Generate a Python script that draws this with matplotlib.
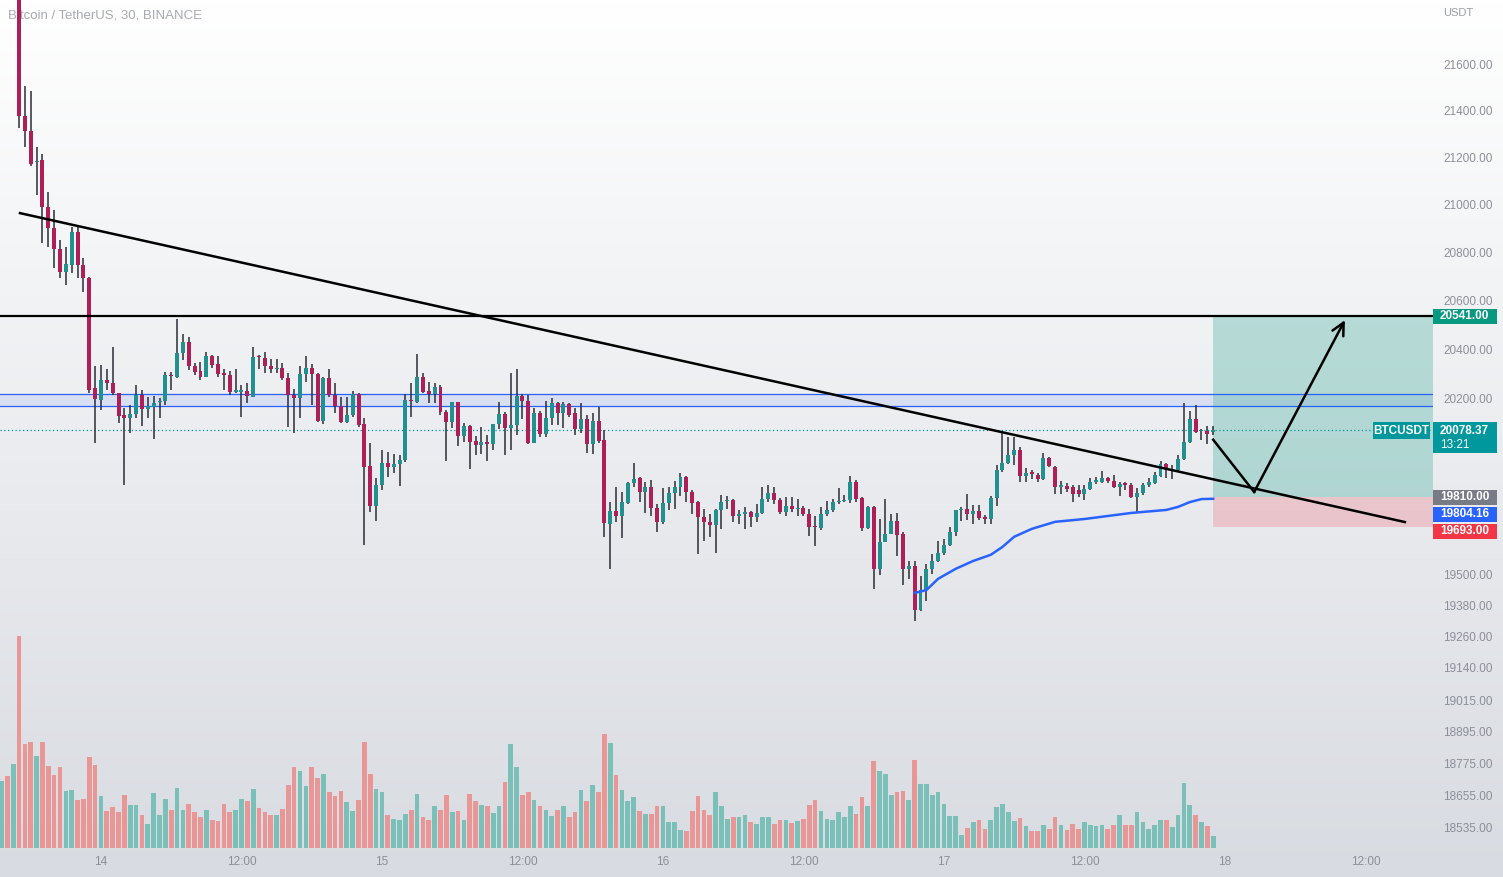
import numpy as np
import matplotlib.pyplot as plt
from matplotlib.patches import Rectangle

# 30 minute bars, index 0 = 14th 00:00 (bars -17 .. 190)
first_bar = -17

opens = [22300, 22380, 22250, 22300, 21383, 21320, 21186, 21195, 20996, 20908,
         20821, 20725, 20754, 20892, 20754, 20700, 20248, 20200, 20282, 20268,
         20228, 20140, 20128, 20144, 20220, 20164, 20172, 20192, 20196, 20300,
         20292, 20392, 20436, 20340, 20316, 20292, 20380, 20348, 20308, 20300,
         20234, 20234, 20236, 20212, 20380, 20372, 20340, 20324, 20332, 20288,
         20220, 20208, 20304, 20332, 20304, 20116, 20288, 20220, 20176, 20112,
         20140, 20224, 20104, 19936, 19776, 19860, 19948, 19932, 19944, 19960,
         20202, 20192, 20292, 20236, 20224, 20252, 20152, 20112, 20192, 20056,
         20096, 20036, 20020, 20032, 20024, 20104, 20144, 20088, 20100, 20216,
         20196, 20028, 20148, 20064, 20128, 20188, 20148, 20184, 20148, 20084,
         20124, 20024, 20116, 20040, 19705, 19756, 19736, 19787, 19868, 19888,
         19830, 19851, 19768, 19713, 19787, 19826, 19852, 19892, 19830, 19791,
         19732, 19713, 19701, 19760, 19795, 19799, 19736, 19744, 19752, 19732,
         19748, 19803, 19826, 19799, 19752, 19776, 19764, 19768, 19744, 19697,
         19689, 19744, 19760, 19791, 19795, 19799, 19872, 19807, 19689, 19772,
         19528, 19634, 19665, 19717, 19665, 19528, 19540, 19367, 19445, 19528,
         19559, 19591, 19622, 19673, 19760, 19764, 19744, 19756, 19732, 19724,
         19807, 19920, 19948, 19980, 20000, 19896, 19908, 19900, 19884, 19968,
         19932, 19852, 19856, 19852, 19840, 19824, 19844, 19872, 19872, 19888,
         19876, 19852, 19864, 19860, 19812, 19828, 19860, 19868, 19896, 19944,
         19916, 19920, 19964, 20032, 20124, 20076, 20076, 20072]

highs = [22420, 22450, 22360, 22340, 21510, 21491, 21251, 21220, 21060, 20984,
         20858, 20830, 20913, 20913, 20783, 20705, 20338, 20342, 20326, 20415,
         20230, 20168, 20180, 20260, 20240, 20212, 20216, 20208, 20312, 20312,
         20532, 20468, 20456, 20352, 20356, 20396, 20385, 20380, 20324, 20316,
         20324, 20260, 20268, 20416, 20384, 20396, 20368, 20368, 20352, 20308,
         20244, 20340, 20380, 20348, 20308, 20292, 20324, 20268, 20212, 20212,
         20236, 20228, 20128, 20028, 19888, 20000, 19992, 19984, 19980, 20224,
         20268, 20388, 20308, 20272, 20268, 20260, 20160, 20192, 20192, 20108,
         20100, 20056, 20092, 20060, 20104, 20192, 20152, 20308, 20324, 20224,
         20220, 20168, 20156, 20196, 20208, 20192, 20192, 20188, 20168, 20188,
         20140, 20148, 20172, 20080, 19791, 19851, 19830, 19872, 19948, 19892,
         19872, 19880, 19783, 19848, 19851, 19876, 19908, 19896, 19840, 19795,
         19764, 19744, 19764, 19818, 19815, 19803, 19760, 19772, 19756, 19783,
         19851, 19860, 19851, 19807, 19811, 19811, 19803, 19776, 19764, 19736,
         19772, 19795, 19803, 19848, 19818, 19896, 19880, 19811, 19776, 19776,
         19724, 19803, 19744, 19748, 19673, 19559, 19559, 19500, 19547, 19587,
         19638, 19646, 19693, 19760, 19772, 19823, 19780, 19780, 19740, 19815,
         19940, 20068, 20052, 20052, 20012, 19928, 19920, 19908, 19988, 19972,
         19936, 19876, 19868, 19860, 19860, 19860, 19888, 19892, 19916, 19892,
         19900, 19872, 19872, 19868, 19848, 19868, 19888, 19912, 19956, 19948,
         19940, 19980, 20188, 20156, 20180, 20084, 20096, 20096]

lows = [22240, 22200, 22150, 21332, 21251, 21168, 21047, 20846, 20830, 20741,
        20700, 20671, 20721, 20700, 20642, 20228, 20028, 20160, 20240, 20220,
        20108, 19860, 20068, 20128, 20096, 20128, 20044, 20128, 20180, 20240,
        20288, 20364, 20320, 20300, 20280, 20292, 20332, 20292, 20240, 20220,
        20228, 20132, 20188, 20212, 20328, 20308, 20308, 20308, 20280, 20092,
        20068, 20128, 20272, 20180, 20112, 20104, 20212, 20148, 20108, 20108,
        20132, 20092, 19622, 19752, 19717, 19840, 19892, 19908, 19856, 19952,
        20132, 20188, 20228, 20188, 20188, 20140, 19956, 20088, 20016, 20032,
        19924, 19980, 19984, 19956, 20000, 20084, 19980, 20000, 20060, 20124,
        20024, 20028, 20052, 20052, 20100, 20100, 20088, 20132, 20060, 20068,
        19988, 19984, 20028, 19654, 19528, 19713, 19650, 19783, 19852, 19791,
        19748, 19736, 19673, 19705, 19760, 19764, 19816, 19791, 19744, 19587,
        19638, 19654, 19591, 19685, 19764, 19713, 19705, 19685, 19693, 19713,
        19744, 19791, 19783, 19744, 19736, 19752, 19736, 19736, 19658, 19618,
        19681, 19736, 19752, 19783, 19791, 19787, 19791, 19677, 19685, 19449,
        19504, 19634, 19665, 19579, 19465, 19488, 19324, 19363, 19402, 19508,
        19555, 19583, 19618, 19658, 19717, 19720, 19705, 19720, 19705, 19705,
        19776, 19912, 19944, 19940, 19872, 19872, 19884, 19872, 19880, 19932,
        19824, 19824, 19832, 19791, 19812, 19800, 19840, 19864, 19868, 19868,
        19848, 19816, 19840, 19808, 19748, 19820, 19852, 19864, 19892, 19888,
        19884, 19912, 19960, 20028, 20068, 20040, 20024, 20060]

closes = [22380, 22250, 22300, 21383, 21319, 21178, 21192, 20996, 20908, 20821,
          20725, 20758, 20892, 20754, 20700, 20240, 20204, 20280, 20270, 20228,
          20136, 20128, 20144, 20220, 20164, 20176, 20188, 20196, 20300, 20296,
          20392, 20436, 20340, 20312, 20292, 20380, 20344, 20304, 20300, 20232,
          20238, 20238, 20216, 20376, 20376, 20340, 20328, 20332, 20288, 20220,
          20208, 20304, 20332, 20304, 20116, 20288, 20220, 20176, 20112, 20140,
          20224, 20100, 19932, 19776, 19860, 19948, 19932, 19944, 19960, 20200,
          20196, 20292, 20232, 20224, 20252, 20152, 20112, 20192, 20056, 20096,
          20032, 20020, 20032, 20024, 20104, 20144, 20088, 20100, 20216, 20196,
          20028, 20148, 20064, 20128, 20188, 20148, 20184, 20140, 20084, 20124,
          20024, 20116, 20036, 19709, 19756, 19736, 19791, 19868, 19884, 19830,
          19851, 19768, 19713, 19787, 19826, 19852, 19892, 19830, 19787, 19732,
          19713, 19701, 19760, 19791, 19799, 19736, 19744, 19752, 19732, 19748,
          19803, 19826, 19799, 19752, 19776, 19764, 19768, 19744, 19693, 19693,
          19744, 19760, 19791, 19795, 19799, 19872, 19803, 19689, 19772, 19528,
          19634, 19665, 19717, 19661, 19528, 19540, 19367, 19445, 19528, 19559,
          19591, 19622, 19673, 19760, 19764, 19744, 19756, 19728, 19724, 19807,
          19920, 19948, 19980, 20000, 19896, 19908, 19904, 19884, 19968, 19934,
          19852, 19856, 19844, 19824, 19824, 19844, 19872, 19876, 19888, 19876,
          19852, 19864, 19860, 19812, 19828, 19860, 19872, 19900, 19944, 19924,
          19924, 19964, 20032, 20124, 20072, 20080, 20064, 20078.37]

volumes = [200, 215, 253, 635, 313, 317, 275, 317, 245, 220,
           242, 172, 175, 145, 148, 272, 248, 157, 110, 122,
           107, 158, 130, 128, 100, 73, 165, 100, 147, 115,
           180, 115, 133, 107, 92, 115, 83, 80, 133, 107,
           115, 147, 142, 177, 120, 107, 100, 100, 118, 188,
           244, 232, 187, 244, 210, 223, 168, 155, 172, 137,
           112, 143, 317, 223, 178, 168, 100, 88, 85, 103,
           115, 163, 92, 83, 125, 115, 158, 107, 112, 85,
           162, 140, 130, 125, 105, 127, 197, 313, 242, 158,
           167, 145, 125, 115, 95, 115, 125, 92, 107, 175,
           140, 190, 167, 343, 315, 220, 175, 140, 152, 112,
           103, 103, 125, 125, 77, 77, 55, 50, 110, 155,
           113, 100, 167, 125, 88, 93, 92, 100, 77, 73,
           93, 93, 73, 83, 85, 75, 82, 88, 128, 143,
           112, 88, 85, 107, 92, 125, 103, 152, 125, 260,
           230, 223, 160, 168, 172, 145, 265, 192, 192, 158,
           167, 133, 95, 95, 40, 60, 77, 85, 58, 83,
           122, 133, 107, 82, 90, 65, 52, 52, 68, 58,
           93, 68, 55, 73, 58, 77, 68, 65, 70, 58,
           70, 98, 70, 70, 107, 77, 58, 68, 85, 85,
           62, 100, 195, 128, 100, 77, 65, 35]

# EMA line read at a few bars
ema_bars = [139, 141, 143, 146, 149, 152, 154, 156, 159, 163, 168, 176, 182, 184, 186, 188, 190]
ema_vals = [19434, 19445, 19489, 19528, 19559, 19583, 19614, 19654, 19685, 19713, 19724,
            19748, 19760, 19772, 19791, 19803, 19804.16]

# drawings
trend_bars = [-13.84, 222.75]
trend_vals = [20971, 19712]
resistance = 20541.0
zone_hi, zone_lo = 20224, 20176
entry, stop = 19810.0, 19693.0
path_bars = [190, 197, 212.5]
path_vals = [20040, 19831, 20526]
last_price = 20078.37
ema_last = 19804.16

time_pos = [0, 24, 48, 72, 96, 120, 144, 168, 192, 216]
time_labels = ['14', '12:00', '15', '12:00', '16', '12:00', '17', '12:00', '18', '12:00']
# 21800, 20000 and 19800 are hidden behind other labels in the original
price_ticks = [21600, 21400, 21200, 21000, 20800, 20600, 20400, 20200,
               19500, 19380, 19260, 19140, 19015, 18895, 18775, 18655, 18535]

UP, DOWN = '#22908e', '#ad1f56'
VUP, VDOWN = '#7bbfb9', '#e99697'
WICK = '#2b2d36'
FONT = 'Liberation Sans'

bars = np.arange(first_bar, first_bar + len(opens))
o, h, l, c = map(np.array, (opens, highs, lows, closes))
up = c >= o

W, H = 1503, 877
fig = plt.figure(figsize=(W / 100, H / 100), dpi=100)

# background gradient
bg = fig.add_axes([0, 0, 1, 1])
bg.axis('off')
g = np.linspace(0, 1, 256)[:, None, None]
top = np.array([255, 255, 255]) / 255
bot = np.array([216, 219, 225]) / 255
bg.imshow(top + (bot - top) * g, aspect='auto', extent=[0, 1, 0, 1])
bg.set_xlim(0, 1)
bg.set_ylim(0, 1)

rect = [0, 26 / H, 1433 / W, 851 / H]
xlim = (-17.25, 227.55)

# volume overlay
axv = fig.add_axes(rect)
axv.axis('off')
vmax = max(volumes)
axv.bar(bars, volumes, width=0.8, color=np.where(up, VUP, VDOWN), linewidth=0)
axv.set_xlim(*xlim)
axv.set_ylim(-0.014 * vmax, 4.0 * vmax)

ax = fig.add_axes(rect)
ax.set_facecolor('none')
ax.set_yscale('log')
ax.set_xlim(*xlim)
ax.set_ylim(18454.5, 21886)
for s in ax.spines.values():
    s.set_visible(False)
ax.set_xticks([])
ax.set_yticks([])
ax.yaxis.set_minor_locator(plt.NullLocator())

# candles
ax.vlines(bars, l, h, color=WICK, lw=1.1, zorder=3)
body_lo = np.minimum(o, c)
body_h = np.maximum(np.abs(c - o), 5)
ax.bar(bars, body_h, bottom=body_lo, width=0.68, color=np.where(up, UP, DOWN),
       linewidth=0, zorder=4)

# zone, lines and drawings
ax.axhspan(zone_lo, zone_hi, color='#2962ff', alpha=0.1, lw=0, zorder=1)
ax.axhline(zone_hi, color='#2962ff', lw=0.9, zorder=2)
ax.axhline(zone_lo, color='#2962ff', lw=0.9, zorder=2)
ax.axhline(last_price, color='#00979d', lw=0.9, ls=(0, (1, 2)), zorder=2)
ax.add_patch(Rectangle((190, entry), xlim[1] - 190, resistance - entry,
                       facecolor='#089981', alpha=0.25, lw=0, zorder=1))
ax.add_patch(Rectangle((190, stop), xlim[1] - 190, entry - stop,
                       facecolor='#f23645', alpha=0.2, lw=0, zorder=1))
ax.axhline(resistance, color='black', lw=1.6, zorder=5)
ax.plot(trend_bars, trend_vals, color='black', lw=1.8, zorder=5)
ax.plot(ema_bars, ema_vals, color='#2962ff', lw=1.8, zorder=5)
ax.plot(path_bars[:2], path_vals[:2], color='black', lw=1.8, zorder=6)
ax.annotate('', xy=(path_bars[2], path_vals[2]), xytext=(path_bars[1], path_vals[1]),
            arrowprops=dict(arrowstyle='->', lw=1.8, color='black', mutation_scale=22,
                            shrinkA=0, shrinkB=0), zorder=6)

ax.text(8 / 1433, 1 - 16 / 851, 'Bitcoin / TetherUS, 30, BINANCE', transform=ax.transAxes,
        ha='left', va='center', fontsize=9.5, color='#a8abb3', family=FONT, zorder=0.5)

# time axis
for p, t in zip(time_pos, time_labels):
    ax.text(p, -11 / 851, t, transform=ax.get_xaxis_transform(), ha='center', va='center',
            fontsize=8.5, color='#8c8f98', family=FONT, clip_on=False)


def ypix(price):
    return H - ax.transData.transform((0, price))[1]


def fig_box(x0, y0, x1, y1, color):
    fig.add_artist(Rectangle((x0 / W, 1 - y1 / H), (x1 - x0) / W, (y1 - y0) / H,
                             transform=fig.transFigure, facecolor=color, lw=0, zorder=10))


def fig_text(x, y, s, z=11, **kw):
    fig.text(x / W, 1 - y / H, s, va='center', family=FONT, zorder=z, **kw)


# price axis
for t in price_ticks:
    fig_text(1443, ypix(t), f'{t:.2f}', z=5, ha='left', fontsize=8.5, color='#8c8f98')
fig_text(1443, 13, 'USDT', ha='left', fontsize=8, color='#9a9da5')


def price_label(y, text, color):
    fig_box(1433, y - 7.5, 1497, y + 7.5, color)
    fig_text(1440, y, text, ha='left', fontsize=8.5, color='white', weight='bold')


price_label(ypix(resistance), f'{resistance:.2f}', '#089981')
y_last = ypix(last_price)
fig_box(1373, y_last - 8, 1430, y_last + 9, '#00979d')
fig_text(1401.5, y_last + 0.5, 'BTCUSDT', ha='center', fontsize=8.5, color='white', weight='bold')
fig_box(1433, y_last - 8, 1497, y_last + 23, '#00979d')
fig_text(1440, y_last + 0.5, f'{last_price:.2f}', ha='left', fontsize=8.5, color='white', weight='bold')
fig_text(1440, y_last + 15, '13:21', ha='left', fontsize=8.5, color='white')
y1 = ypix(entry)
price_label(y1, f'{entry:.2f}', '#787b86')
y2 = max(ypix(ema_last), y1 + 17)
price_label(y2, f'{ema_last:.2f}', '#2962ff')
y3 = max(ypix(stop), y2 + 17)
price_label(y3, f'{stop:.2f}', '#f23645')

fig.savefig('out.png', dpi=100)
